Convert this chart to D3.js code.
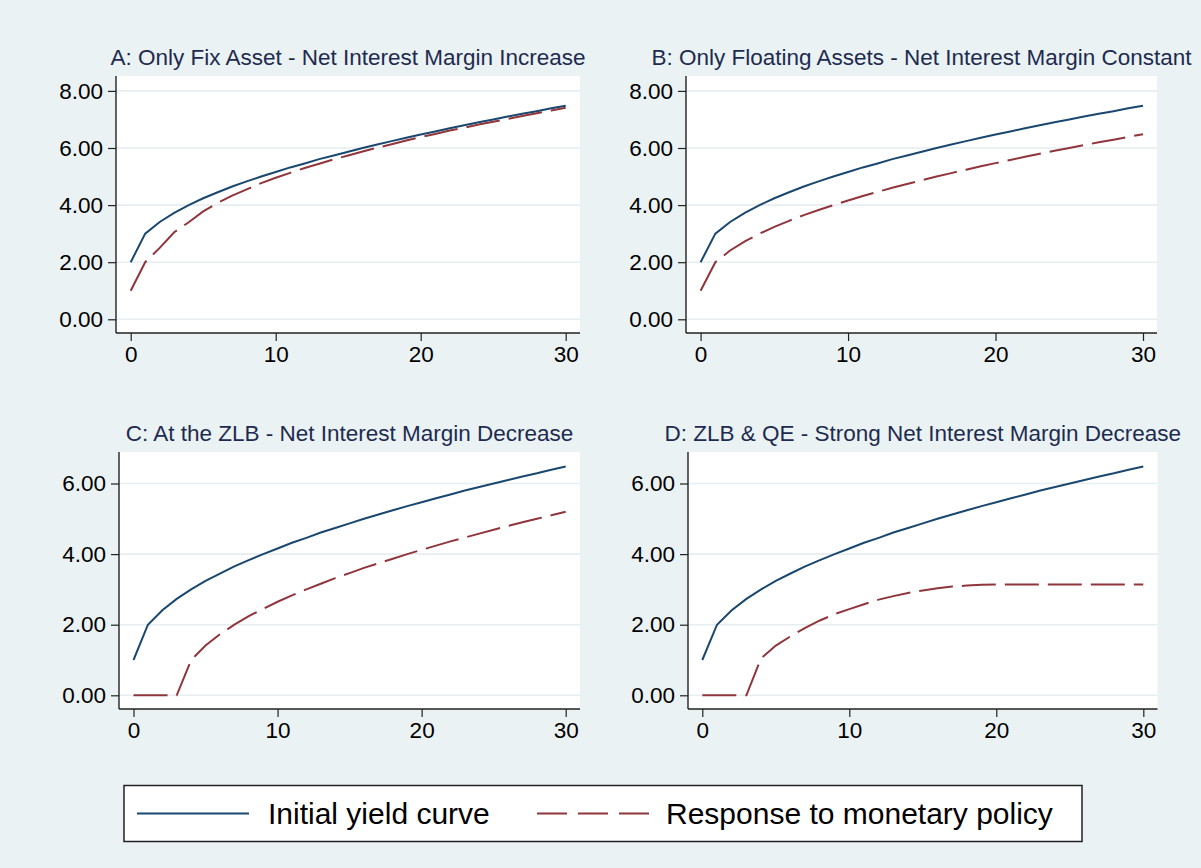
<!DOCTYPE html>
<html>
<head>
<meta charset="utf-8">
<script src="https://cdn.jsdelivr.net/npm/d3@7"></script>
<style>
  html, body { margin: 0; padding: 0; background: #ffffff; }
  svg { display: block; }
  text { font-family: "Liberation Sans", Arial, Helvetica, sans-serif; }
</style>
</head>
<body>
<svg id="chart" width="1201" height="868"></svg>
<script>
// ---- Data ----
const maturities = [0,1,2,3,4,5,6,7,8,9,10,11,12,13,14,15,16,17,18,19,20,21,22,23,24,25,26,27,28,29,30];

// Initial yield curve, panels A & B
const initialHigh = [2.00,3.00,3.41,3.73,4.00,4.24,4.45,4.65,4.83,5.00,5.16,5.32,5.46,5.61,5.74,5.87,6.00,6.12,6.24,6.36,6.47,6.58,6.69,6.80,6.90,7.00,7.10,7.20,7.29,7.39,7.48];
// Initial yield curve, panels C & D
const initialLow  = [1.00,2.00,2.41,2.73,3.00,3.24,3.45,3.65,3.83,4.00,4.16,4.32,4.46,4.61,4.74,4.87,5.00,5.12,5.24,5.36,5.47,5.58,5.69,5.80,5.90,6.00,6.10,6.20,6.29,6.39,6.48];

// Responses to monetary policy
const responseA = [1.00,2.00,2.50,3.05,3.40,3.78,4.08,4.33,4.55,4.77,4.96,5.13,5.30,5.45,5.60,5.74,5.88,6.01,6.13,6.26,6.38,6.49,6.61,6.71,6.82,6.92,7.02,7.12,7.22,7.31,7.41];
const responseB = [1.00,2.00,2.41,2.73,3.00,3.24,3.45,3.65,3.83,4.00,4.16,4.32,4.46,4.61,4.74,4.87,5.00,5.12,5.24,5.36,5.47,5.58,5.69,5.80,5.90,6.00,6.10,6.20,6.29,6.39,6.48];
const responseC = [0.00,0.00,0.00,0.00,1.00,1.41,1.73,2.00,2.24,2.45,2.65,2.83,3.00,3.16,3.32,3.46,3.61,3.74,3.87,4.00,4.12,4.24,4.36,4.47,4.58,4.69,4.80,4.90,5.00,5.10,5.20];
const responseD = [0.00,0.00,0.00,0.00,1.05,1.41,1.67,1.91,2.12,2.30,2.44,2.58,2.71,2.81,2.90,2.97,3.03,3.08,3.11,3.13,3.14,3.14,3.14,3.14,3.14,3.14,3.14,3.14,3.14,3.14,3.14];

const panelTitles = [
  "A: Only Fix Asset - Net Interest Margin Increase",
  "B: Only Floating Assets - Net Interest Margin Constant",
  "C: At the ZLB - Net Interest Margin Decrease",
  "D: ZLB & QE - Strong Net Interest Margin Decrease"
];
const xTicks = [0, 10, 20, 30];
const yTicksTop = [0, 2, 4, 6, 8];
const yTicksBottom = [0, 2, 4, 6];
const legendLabels = ["Initial yield curve", "Response to monetary policy"];

// ---- Styling / layout ----
const BG = "#eaf2f3";
const BLUE = "#1a476f";
const RED = "#90353b";
const TITLE = "#1e2b50";
const GRID = "#e6eef1";

const svg = d3.select("#chart");
svg.append("rect").attr("x", 0).attr("y", 0).attr("width", 1201).attr("height", 868).attr("fill", BG);

const panels = [
  { title: panelTitles[0], initial: initialHigh, response: responseA, yTicks: yTicksTop, yMax: 8,
    left: 116, right: 580, top: 76, bottom: 333, x0: 130.7, x1: 565.7, y0: 319.3, yTop: 90.9 },
  { title: panelTitles[1], initial: initialHigh, response: responseB, yTicks: yTicksTop, yMax: 8,
    left: 686, right: 1157, top: 76, bottom: 333, x0: 700.6, x1: 1143, y0: 319.3, yTop: 90.9 },
  { title: panelTitles[2], initial: initialLow, response: responseC, yTicks: yTicksBottom, yMax: 6,
    left: 119, right: 580, top: 452, bottom: 709, x0: 133.5, x1: 565.7, y0: 695.3, yTop: 483.5 },
  { title: panelTitles[3], initial: initialLow, response: responseD, yTicks: yTicksBottom, yMax: 6,
    left: 688, right: 1157.5, top: 452, bottom: 709, x0: 702.3, x1: 1143.3, y0: 695.3, yTop: 483.5 }
];

panels.forEach(p => {
  const g = svg.append("g");
  const x = d3.scaleLinear().domain([0, 30]).range([p.x0, p.x1]);
  const y = d3.scaleLinear().domain([0, p.yMax]).range([p.y0, p.yTop]);

  // plot region
  g.append("rect").attr("x", p.left).attr("y", p.top)
    .attr("width", p.right - p.left).attr("height", p.bottom - p.top).attr("fill", "#ffffff");

  // gridlines
  g.selectAll(".grid").data(p.yTicks).enter().append("line")
    .attr("x1", p.left).attr("x2", p.right)
    .attr("y1", d => y(d)).attr("y2", d => y(d))
    .attr("stroke", GRID).attr("stroke-width", 1.6);

  // y axis
  const yAxis = d3.axisLeft(y).tickValues(p.yTicks).tickFormat(d3.format(".2f")).tickSize(8).tickPadding(5);
  const ya = g.append("g").attr("transform", `translate(${p.left},0)`).call(yAxis);
  ya.select(".domain").remove();
  g.append("line").attr("x1", p.left).attr("x2", p.left).attr("y1", p.top).attr("y2", p.bottom)
    .attr("stroke", "#222").attr("stroke-width", 1.4);

  // x axis
  const xAxis = d3.axisBottom(x).tickValues(xTicks).tickFormat(d3.format("d")).tickSize(8).tickPadding(5);
  const xa = g.append("g").attr("transform", `translate(0,${p.bottom})`).call(xAxis);
  xa.select(".domain").remove();
  g.append("line").attr("x1", p.left).attr("x2", p.right).attr("y1", p.bottom).attr("y2", p.bottom)
    .attr("stroke", "#222").attr("stroke-width", 1.4);

  [ya, xa].forEach(a => {
    a.selectAll(".tick line").attr("stroke", "#222").attr("stroke-width", 1.2);
    a.selectAll(".tick text").attr("fill", "#000").style("font-size", "22.5px")
      .style("font-family", '"Liberation Sans", Arial, sans-serif');
  });

  // lines
  const line = d3.line().x((d, i) => x(maturities[i])).y(d => y(d));
  g.append("path").datum(p.initial).attr("d", line)
    .attr("fill", "none").attr("stroke", BLUE).attr("stroke-width", 2);
  g.append("path").datum(p.response).attr("d", line)
    .attr("fill", "none").attr("stroke", RED).attr("stroke-width", 2)
    .attr("stroke-dasharray", "34,9");

  // title
  g.append("text").attr("x", (p.left + p.right) / 2).attr("y", p.top - 11)
    .attr("text-anchor", "middle").attr("fill", TITLE).style("font-size", "22.5px")
    .text(p.title);
});

// ---- Legend ----
const lg = svg.append("g");
lg.append("rect").attr("x", 124).attr("y", 785.5).attr("width", 958).attr("height", 56)
  .attr("fill", "#ffffff").attr("stroke", "#222").attr("stroke-width", 1.5);
lg.append("line").attr("x1", 137).attr("x2", 249).attr("y1", 813.5).attr("y2", 813.5)
  .attr("stroke", BLUE).attr("stroke-width", 2);
lg.append("text").attr("x", 268).attr("y", 824).attr("fill", "#000").style("font-size", "30px")
  .text(legendLabels[0]);
lg.append("line").attr("x1", 537).attr("x2", 649).attr("y1", 813.5).attr("y2", 813.5)
  .attr("stroke", RED).attr("stroke-width", 2).attr("stroke-dasharray", "30,11");
lg.append("text").attr("x", 666).attr("y", 824).attr("fill", "#000").style("font-size", "30px")
  .text(legendLabels[1]);
</script>
</body>
</html>
